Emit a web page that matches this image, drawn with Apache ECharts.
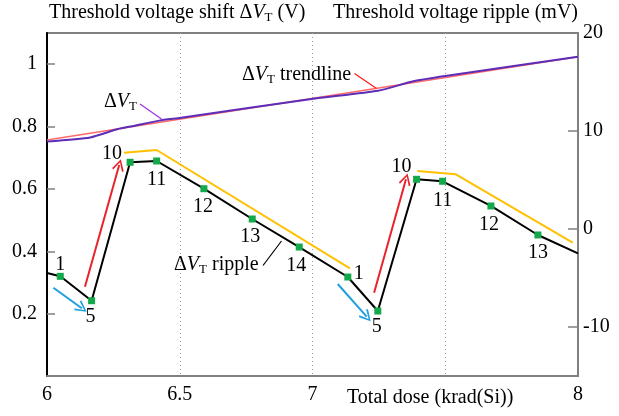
<!DOCTYPE html>
<html><head><meta charset="utf-8">
<script src="https://cdn.jsdelivr.net/npm/echarts@6/dist/echarts.min.js"></script>
<style>html,body{margin:0;padding:0;background:#fff}#c{width:619px;height:416px}</style>
</head><body><div id="c"></div>
<script>
const FONT = "'Liberation Serif','Times New Roman',serif";

// ΔV_T (left axis, V) vs total dose (krad(Si))
const dvtDose = [6, 6.163, 6.267, 6.327, 6.423, 6.505, 7.01, 7.247, 7.38, 7.5, 8];
const dvtVolt = [0.752, 0.765, 0.792, 0.802, 0.819, 0.828, 0.890, 0.915, 0.945, 0.962, 1.024];
// ΔV_T trendline
const trendDose = [6, 8];
const trendVolt = [0.757, 1.024];
// ΔV_T ripple (right axis, mV)
const rippleDose = [6, 6.050, 6.168, 6.313, 6.413, 6.591, 6.773, 6.950, 7.133, 7.246, 7.392, 7.490, 7.672, 7.849, 8];
const rippleMV   = [-4.49, -4.83, -7.32, 6.81, 6.94, 4.11, 1.02, -1.84, -4.90, -8.37, 5.07, 4.87, 2.35, -0.61, -2.48];
const rippleTags = ['', '1', '5', '10', '11', '12', '13', '14', '1', '5', '10', '11', '12', '13', ''];
// yellow envelope (two pieces)
const envDoseA = [6.290, 6.413, 7.141];
const envMVA   = [7.79, 8.06, -4.01];
const envDoseB = [7.395, 7.540, 7.980];
const envMVB   = [5.92, 5.58, -1.40];
// arrows [fromDose, fromMV, toDose, toMV]
const blueArrows = [[6.024, -5.99, 6.131, -8.09], [7.095, -5.61, 7.204, -8.95]];
const redArrows  = [[6.143, -5.89, 6.272, 6.53], [7.232, -6.50, 7.352, 5.07]];
// labelled x ticks
const xTickLabels = [6, 6.5, 7, 8];

// layout (label offsets in px, not data)
const tagOffsets = [null, [0, -12], [-1, 16], [-18, -9], [0, 19], [-1, 18], [-2, 18], [-3, 19], [11, -3], [-1, 16], [-15, -13], [0, 19], [-2, 19], [0, 18], null];

function richFor(color) {
  return {
    a: {fontFamily: FONT, fontSize: 20, lineHeight: 22, color: color},
    v: {fontFamily: FONT, fontSize: 20, lineHeight: 22, fontStyle: 'italic', color: color},
    s: {fontFamily: FONT, fontSize: 13, lineHeight: 12, verticalAlign: 'bottom', color: color}
  };
}
const chevron = 'path://M5,0L10,8.5L8.8,9.5L5,2.4L1.2,9.5L0,8.5Z';

const chart = echarts.init(document.getElementById('c'), null, {renderer: 'canvas'});
const option = {
  animation: false,
  backgroundColor: '#fff',
  grid: {show: true, left: 47, right: 41, top: 33, bottom: 40, borderColor: '#808080', borderWidth: 2, containLabel: false},
  xAxis: {
    type: 'value', min: 6, max: 8, interval: 0.5,
    axisLine: {show: true, onZero: false, lineStyle: {color: '#808080', width: 2}},
    axisTick: {show: false},
    axisLabel: {
      formatter: v => xTickLabels.includes(v) ? String(v) : '',
      color: '#000', fontSize: 20, fontFamily: FONT, margin: 9
    },
    splitLine: {show: true, showMinLine: false, showMaxLine: false, lineStyle: {color: '#9a9a9a', width: 1, type: [1, 3]}}
  },
  yAxis: [{
    type: 'value', min: 0, max: 1.1, interval: 0.2, position: 'left',
    axisLine: {show: true, onZero: false, lineStyle: {color: '#000', width: 2}},
    axisTick: {show: true, inside: true, length: 8, lineStyle: {color: '#808080', width: 1.5}},
    axisLabel: {showMinLabel: false, showMaxLabel: false, color: '#000', fontSize: 20, fontFamily: FONT, margin: 10},
    splitLine: {show: false},
    name: '{a|Threshold voltage shift Δ}{v|V}{s|T}{a| (V)}',
    nameLocation: 'end', nameGap: 20,
    nameTextStyle: {align: 'left', verticalAlign: 'middle', padding: [0, 0, 0, 2], rich: richFor('#000')}
  }, {
    type: 'value', min: -15, max: 20, splitNumber: 4, position: 'right',
    axisLine: {show: true, onZero: false, lineStyle: {color: '#808080', width: 2}},
    axisTick: {show: true, inside: true, length: 10, lineStyle: {color: '#808080', width: 1.5}},
    axisLabel: {showMinLabel: false, color: '#000', fontSize: 20, fontFamily: FONT, margin: 5},
    splitLine: {show: false},
    name: 'Threshold voltage ripple (mV)',
    nameLocation: 'end', nameGap: 20,
    nameTextStyle: {align: 'right', verticalAlign: 'middle', color: '#000', fontSize: 20, fontFamily: FONT}
  }],
  series: [
    {
      name: 'trendline', type: 'line', yAxisIndex: 0, z: 2, symbol: 'none',
      lineStyle: {color: '#FF6A6A', width: 1.5},
      data: trendDose.map((d, i) => [d, trendVolt[i]])
    },
    {
      name: 'dVT', type: 'line', yAxisIndex: 0, z: 3, symbol: 'none', smooth: 0.2,
      lineStyle: {color: '#5E2DB8', width: 2},
      data: dvtDose.map((d, i) => [d, dvtVolt[i]])
    },
    {
      name: 'envA', type: 'line', yAxisIndex: 1, z: 2, symbol: 'none',
      lineStyle: {color: '#FFC000', width: 2},
      data: envDoseA.map((d, i) => [d, envMVA[i]])
    },
    {
      name: 'envB', type: 'line', yAxisIndex: 1, z: 2, symbol: 'none',
      lineStyle: {color: '#FFC000', width: 2},
      data: envDoseB.map((d, i) => [d, envMVB[i]])
    },
    {
      name: 'ripple', type: 'line', yAxisIndex: 1, z: 4, showAllSymbol: true,
      symbol: 'rect', symbolSize: 7,
      lineStyle: {color: '#000', width: 2},
      itemStyle: {color: '#13A84A'},
      label: {show: false, color: '#000', fontSize: 20, fontFamily: FONT},
      data: rippleDose.map((d, i) => rippleTags[i] ? {
        value: [d, rippleMV[i]],
        label: {show: true, formatter: rippleTags[i], position: 'inside', offset: tagOffsets[i], color: '#000', fontSize: 20, fontFamily: FONT}
      } : {value: [d, rippleMV[i]], symbol: 'none'})
    },
    {
      name: 'blueArrows', type: 'line', yAxisIndex: 1, data: [], z: 5,
      markLine: {
        silent: true, animation: false, symbol: ['none', chevron], symbolSize: 12,
        label: {show: false},
        lineStyle: {color: '#1E9FE0', width: 2, type: 'solid'},
        data: blueArrows.map(a => [{coord: [a[0], a[1]]}, {coord: [a[2], a[3]]}])
      }
    },
    {
      name: 'redArrows', type: 'line', yAxisIndex: 1, data: [], z: 5,
      markLine: {
        silent: true, animation: false, symbol: ['none', chevron], symbolSize: 12,
        label: {show: false},
        lineStyle: {color: '#E8232B', width: 2, type: 'solid'},
        data: redArrows.map(a => [{coord: [a[0], a[1]]}, {coord: [a[2], a[3]]}])
      }
    }
  ],
  graphic: [
    {type: 'text', x: 104, y: 102, z: 10, style: {text: '{a|Δ}{v|V}{s|T}', rich: richFor('#A030E8'), verticalAlign: 'middle', align: 'left'}},
    {type: 'line', z: 10, shape: {x1: 140, y1: 104, x2: 161.5, y2: 119}, style: {stroke: '#A030E8', lineWidth: 1.2}},
    {type: 'text', x: 242, y: 75, z: 10, style: {text: '{a|Δ}{v|V}{s|T}{a| trendline}', rich: richFor('#FF1A1A'), verticalAlign: 'middle', align: 'left'}},
    {type: 'line', z: 10, shape: {x1: 354.5, y1: 73.5, x2: 376.5, y2: 88.5}, style: {stroke: '#FF1A1A', lineWidth: 1.2}},
    {type: 'text', x: 174, y: 265, z: 10, style: {text: '{a|Δ}{v|V}{s|T}{a| ripple}', rich: richFor('#000'), verticalAlign: 'middle', align: 'left'}},
    {type: 'line', z: 10, shape: {x1: 263, y1: 265.5, x2: 281.5, y2: 241}, style: {stroke: '#000', lineWidth: 1.2}},
    {type: 'text', x: 347, y: 398, z: 10, style: {text: 'Total dose (krad(Si))', font: '20px ' + FONT, fill: '#000', verticalAlign: 'middle', align: 'left'}}
  ]
};
chart.setOption(option);
</script>
</body></html>
